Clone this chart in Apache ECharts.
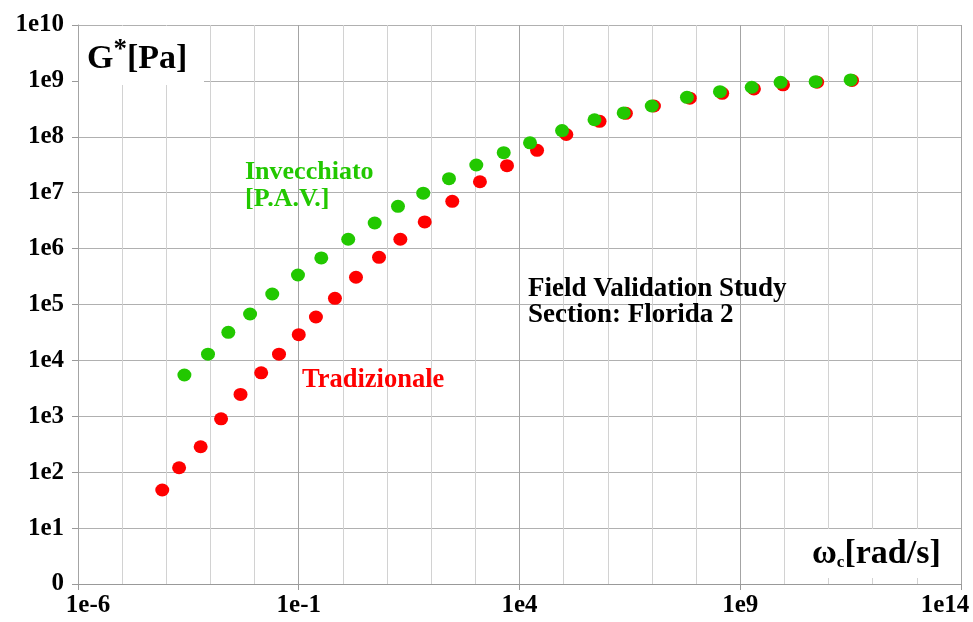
<!DOCTYPE html>
<html>
<head>
<meta charset="utf-8">
<script src="https://cdn.jsdelivr.net/npm/echarts@6/dist/echarts.min.js"></script>
<style>
  html, body { margin: 0; padding: 0; background: #fff; }
  #chart { width: 973px; height: 622px; }
</style>
</head>
<body>
<div id="chart"></div>
<script>
// Complex modulus G* [Pa] versus reduced angular frequency ω_c [rad/s]
// "Tradizionale" binder (red)
const tradFreq = [8.1e-5, 1.95e-4, 6.0e-4, 1.74e-3, 4.8e-3, 0.0141, 0.0357, 0.1, 0.245, 0.66,
  1.98, 6.58, 20, 71.3, 300, 1270, 5210, 2.5e4, 1.15e5, 6.5e5,
  2.57e6, 1.11e7, 7.2e7, 3.9e8, 2.04e9, 9.3e9, 5.5e10, 3.4e11];
const tradModulus = [48, 120, 285, 900, 2460, 6000, 12900, 28800, 59700, 1.29e5,
  3.07e5, 6.98e5, 1.47e6, 3.0e6, 7.0e6, 1.57e7, 3.04e7, 5.73e7, 1.1e8, 1.89e8,
  2.63e8, 3.56e8, 4.9e8, 6.0e8, 7.2e8, 8.5e8, 9.5e8, 1.02e9];

// "Invecchiato [P.A.V.]" aged binder (green)
const pavFreq = [2.57e-4, 8.8e-4, 2.54e-3, 7.9e-3, 0.0251, 0.096, 0.324, 1.32, 5.25, 17.7,
  66, 253, 1050, 4390, 1.73e4, 9.2e4, 5.0e5, 2.29e6, 9.9e6, 6.2e7,
  3.47e8, 1.82e9, 8.2e9, 5.1e10, 3.16e11];
const pavModulus = [5480, 1.29e4, 3.18e4, 6.76e4, 1.54e5, 3.37e5, 6.8e5, 1.47e6, 2.87e6, 5.7e6,
  9.8e6, 1.78e7, 3.13e7, 5.2e7, 7.8e7, 1.29e8, 2.02e8, 2.67e8, 3.56e8, 5.08e8,
  6.41e8, 7.7e8, 9.44e8, 9.7e8, 1.04e9];

// Tick labels (decade exponents -> text)
const xTickExps = [-6, -1, 4, 9, 14];
const xTickLabels = ['1e-6', '1e-1', '1e4', '1e9', '1e14'];
const yTickExps = [0, 1, 2, 3, 4, 5, 6, 7, 8, 9, 10];
const yTickLabels = ['0', '1e1', '1e2', '1e3', '1e4', '1e5', '1e6', '1e7', '1e8', '1e9', '1e10'];

const SERIF = '"Liberation Serif", "Times New Roman", serif';
const RED = '#ff0000';
const GREEN = '#22c800';

function zip(xs, ys) { return xs.map((x, i) => [x, ys[i]]); }
function exponent(v) { return Math.round(Math.log10(v)); }

const chart = echarts.init(document.getElementById('chart'), null, { renderer: 'canvas' });

const labelFont = { fontFamily: SERIF, fontWeight: 'bold', fontSize: 25, color: '#000' };

chart.setOption({
  animation: false,
  backgroundColor: '#fff',
  grid: { left: 78, right: 12, top: 25, bottom: 38, containLabel: false },
  xAxis: [
    {
      type: 'log', logBase: 10, min: 1e-6, max: 1e14, interval: 5,
      axisLine: { show: true, lineStyle: { color: '#999', width: 1 } },
      axisTick: { show: true, length: 6, lineStyle: { color: '#999' } },
      splitLine: { show: true, lineStyle: { color: '#a4a4a4', width: 1 } },
      axisLabel: Object.assign({}, labelFont, {
        margin: 9,
        showMinLabel: true, showMaxLabel: true,
        formatter: function (v) {
          const i = xTickExps.indexOf(exponent(v));
          if (i < 0) return '';
          if (i === 0) return '{first|' + xTickLabels[i] + '}';
          if (i === xTickLabels.length - 1) return '{last|' + xTickLabels[i] + '}';
          return xTickLabels[i];
        },
        rich: {
          first: Object.assign({}, labelFont, { padding: [0, 0, 0, 20] }),
          last: Object.assign({}, labelFont, { padding: [0, 32, 0, 0] })
        }
      }),
      z: 3
    },
    {
      type: 'log', logBase: 10, min: 1e-6, max: 1e14, interval: 1,
      axisLine: { show: false }, axisTick: { show: false }, axisLabel: { show: false },
      splitLine: { show: true, lineStyle: { color: '#d2d2d2', width: 1 } },
      z: 1
    }
  ],
  yAxis: {
    type: 'log', logBase: 10, min: 1, max: 1e10, interval: 1,
    axisLine: { show: true, lineStyle: { color: '#999', width: 1 } },
    axisTick: { show: true, length: 6, lineStyle: { color: '#999' } },
    splitLine: { show: true, lineStyle: { color: '#b0b0b0', width: 1 } },
    axisLabel: Object.assign({}, labelFont, {
      margin: 14,
      showMinLabel: true, showMaxLabel: true,
      formatter: function (v) {
        const i = yTickExps.indexOf(exponent(v));
        return i < 0 ? '' : yTickLabels[i];
      }
    })
  },
  series: [
    {
      name: 'Tradizionale', type: 'scatter', xAxisIndex: 0,
      data: zip(tradFreq, tradModulus),
      symbol: 'circle', symbolSize: [14, 13],
      itemStyle: { color: RED, opacity: 1 }, z: 4
    },
    {
      name: 'Invecchiato [P.A.V.]', type: 'scatter', xAxisIndex: 0,
      data: zip(pavFreq, pavModulus),
      symbol: 'circle', symbolSize: [14, 13],
      itemStyle: { color: GREEN, opacity: 1 }, z: 5
    }
  ],
  graphic: [
    // Axis titles sit on white panels over the grid
    { type: 'rect', shape: { x: 79, y: 26, width: 125, height: 59 }, style: { fill: '#fff' }, z: 10 },
    {
      type: 'text', x: 87, y: 59, z: 11,
      style: {
        text: '{g|G}{s|*}{g|[Pa]}',
        verticalAlign: 'middle',
        rich: {
          g: { font: 'bold 34px ' + SERIF, fill: '#000', lineHeight: 44 },
          s: { font: 'bold 27px ' + SERIF, fill: '#000', lineHeight: 30, verticalAlign: 'top' }
        }
      }
    },
    { type: 'rect', shape: { x: 805, y: 529, width: 155, height: 49 }, style: { fill: '#fff' }, z: 10 },
    {
      type: 'text', x: 812, y: 554, z: 11,
      style: {
        text: '{w|ω}{c|c}{w|[rad/s]}',
        verticalAlign: 'middle',
        rich: {
          w: { font: 'bold 34px ' + SERIF, fill: '#000' },
          c: { font: 'bold 17px ' + SERIF, fill: '#000', verticalAlign: 'bottom' }
        }
      }
    },
    // Series annotations
    { type: 'text', x: 245, y: 172, z: 11, style: { text: 'Invecchiato', font: 'bold 26px ' + SERIF, fill: GREEN, verticalAlign: 'middle' } },
    { type: 'text', x: 245, y: 199, z: 11, style: { text: '[P.A.V.]', font: 'bold 26px ' + SERIF, fill: GREEN, verticalAlign: 'middle' } },
    { type: 'text', x: 302, y: 380, z: 11, style: { text: 'Tradizionale', font: 'bold 26.5px ' + SERIF, fill: RED, verticalAlign: 'middle' } },
    { type: 'text', x: 528, y: 289, z: 11, style: { text: 'Field Validation Study', font: 'bold 27px ' + SERIF, fill: '#000', verticalAlign: 'middle' } },
    { type: 'text', x: 528, y: 315, z: 11, style: { text: 'Section: Florida 2', font: 'bold 27px ' + SERIF, fill: '#000', verticalAlign: 'middle' } }
  ]
});
</script>
</body>
</html>
